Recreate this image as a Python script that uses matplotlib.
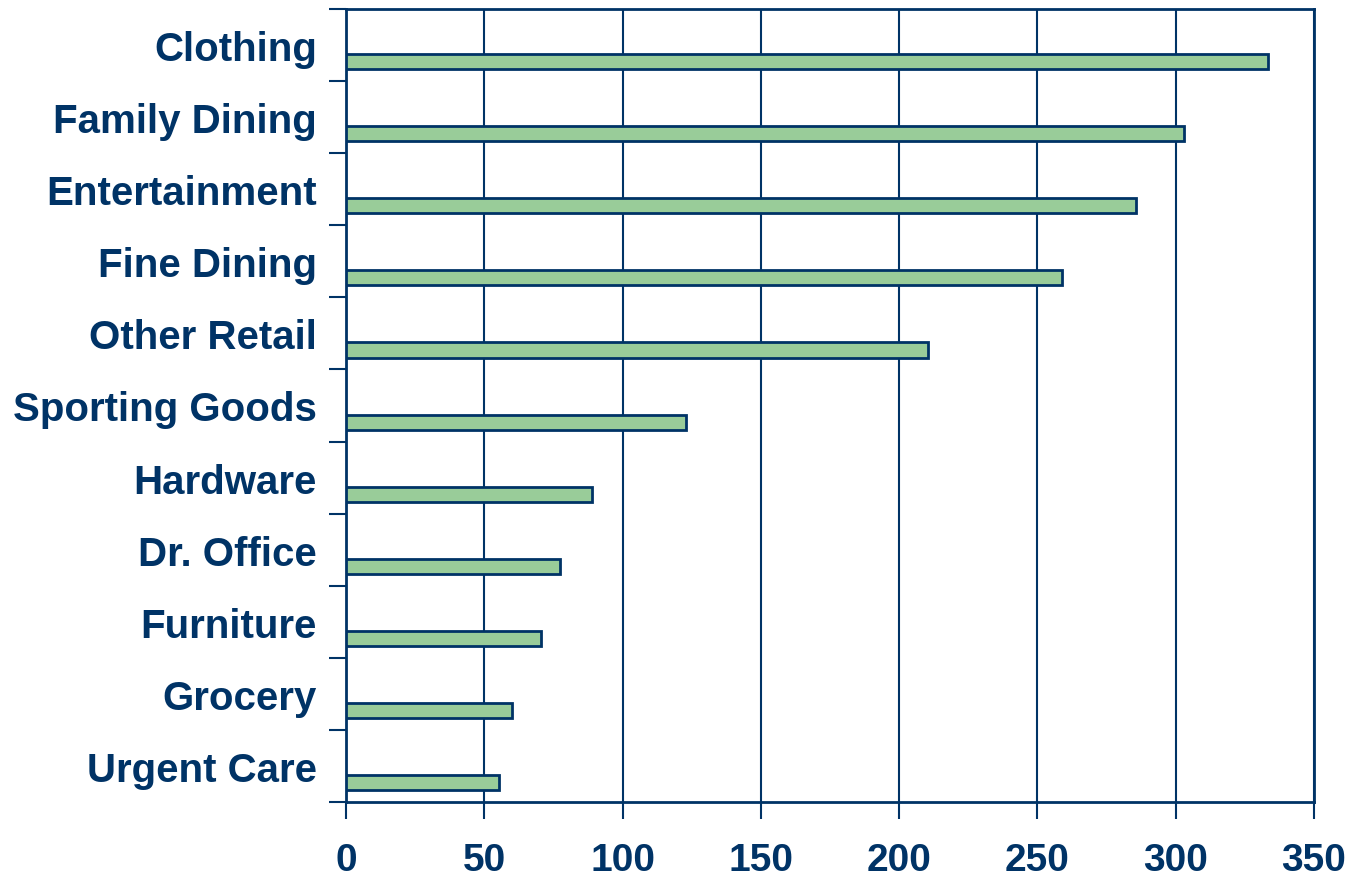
import matplotlib.pyplot as plt
import numpy as np

plt.rcParams['font.family'] = ['Liberation Sans', 'DejaVu Sans']

categories = ['Clothing', 'Family Dining', 'Entertainment', 'Fine Dining', 'Other Retail',
              'Sporting Goods', 'Hardware', 'Dr. Office', 'Furniture', 'Grocery', 'Urgent Care']
values = [333.5, 303, 285.5, 259, 210.5, 123, 89, 77.5, 70.5, 60, 55.5]
xticks = [0, 50, 100, 150, 200, 250, 300, 350]

navy = '#003366'
green = '#99CC99'

fig = plt.figure(figsize=(13.51, 8.79), dpi=100)
ax = fig.add_axes([0.2561, 0.0865, 0.9726 - 0.2561, 0.9886 - 0.0865])

pos = np.arange(len(categories))
# bars sit in the lower part of each category band
ax.barh(pos + 0.5 + 0.23, values, height=0.21, color=green, edgecolor=navy, linewidth=2, zorder=3)

ax.set_xlim(0, 350)
ax.set_ylim(len(categories), 0)
ax.set_xticks(xticks)
ax.set_xticklabels([str(t) for t in xticks], fontsize=28, fontweight='bold', color=navy)
ax.set_yticks(pos + 0.5)
ax.set_yticklabels(categories, fontsize=29, fontweight='bold', color=navy)
ax.set_yticks(np.arange(len(categories) + 1), minor=True)

ax.tick_params(axis='y', which='major', length=0, pad=21)
ax.tick_params(axis='y', which='minor', length=12, width=1.5, color=navy)
ax.tick_params(axis='x', length=12, width=1.5, color=navy, pad=17)

ax.grid(axis='x', color=navy, linewidth=1.5, zorder=1)
for s in ax.spines.values():
    s.set_color(navy)
    s.set_linewidth(2)

fig.savefig('out.png', dpi=100)
